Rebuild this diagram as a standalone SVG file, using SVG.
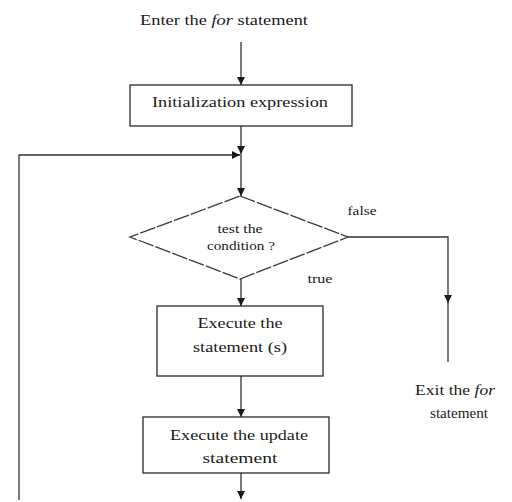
<svg xmlns="http://www.w3.org/2000/svg" width="512" height="502" viewBox="0 0 512 502">
  <style>
    .box { fill: #ffffff; stroke: #2a2a2a; stroke-width: 1.3; }
    .dia { fill: #ffffff; stroke: #3a3a3a; stroke-width: 1.3; stroke-dasharray: 16 2; }
    .line { fill: none; stroke: #333333; stroke-width: 1.3; }
    .t { font-family: "Liberation Serif", "Times New Roman", serif; font-size: 14px; fill: #1a1a1a; text-anchor: middle; }
    .s { font-size: 12px; }
  </style>
  <defs>
    <marker id="arr" viewBox="0 0 10 10" refX="10" refY="5" markerWidth="8" markerHeight="8" markerUnits="userSpaceOnUse" orient="auto">
      <path d="M0,0 L10,5 L0,10 Z" fill="#1a1a1a"/>
    </marker>
  </defs>

  <g id="connectors">
    <line class="line" x1="241" y1="42" x2="241" y2="85" marker-end="url(#arr)"/>
    <line class="line" x1="241" y1="126" x2="241" y2="154" marker-end="url(#arr)"/>
    <polyline class="line" points="19,500 19,155 240,155" marker-end="url(#arr)"/>
    <line class="line" x1="241" y1="154" x2="241" y2="196" marker-end="url(#arr)"/>
    <line class="line" x1="241" y1="279" x2="241" y2="306" marker-end="url(#arr)"/>
    <line class="line" x1="241" y1="376" x2="241" y2="417" marker-end="url(#arr)"/>
    <line class="line" x1="241" y1="473" x2="241" y2="499" marker-end="url(#arr)"/>
    <polyline class="line" points="348,237 448,237 448,303" marker-end="url(#arr)"/>
    <line class="line" x1="448" y1="300" x2="448" y2="362" stroke="#666666"/>
  </g>

  <g id="enter">
    <text class="t" x="224" y="25" textLength="168" lengthAdjust="spacingAndGlyphs">Enter the <tspan font-style="italic">for</tspan> statement</text>
  </g>

  <g id="init">
    <rect class="box" x="130" y="85" width="222" height="41"/>
    <text class="t" x="240" y="107" textLength="176" lengthAdjust="spacingAndGlyphs">Initialization expression</text>
  </g>

  <g id="condition">
    <polygon class="dia" points="240,196 348,237 240,279 130,237"/>
    <text class="t s" x="240" y="233" textLength="45" lengthAdjust="spacingAndGlyphs">test the</text>
    <text class="t s" x="241" y="250" textLength="68" lengthAdjust="spacingAndGlyphs">condition ?</text>
  </g>

  <g id="labels">
    <text class="t s" x="362" y="215" textLength="29" lengthAdjust="spacingAndGlyphs">false</text>
    <text class="t s" x="320" y="283" textLength="25" lengthAdjust="spacingAndGlyphs">true</text>
  </g>

  <g id="body">
    <rect class="box" x="157" y="306" width="166" height="70"/>
    <text class="t" x="240" y="328" textLength="85" lengthAdjust="spacingAndGlyphs">Execute the</text>
    <text class="t" x="240" y="352" textLength="94" lengthAdjust="spacingAndGlyphs">statement (s)</text>
  </g>

  <g id="update">
    <rect class="box" x="143" y="417" width="186" height="56"/>
    <text class="t" x="239" y="440" textLength="138" lengthAdjust="spacingAndGlyphs">Execute the update</text>
    <text class="t" x="240" y="463" textLength="75" lengthAdjust="spacingAndGlyphs">statement</text>
  </g>

  <g id="exit">
    <text class="t" x="455" y="395" textLength="80" lengthAdjust="spacingAndGlyphs">Exit the <tspan font-style="italic">for</tspan></text>
    <text class="t" x="459" y="418" textLength="58" lengthAdjust="spacingAndGlyphs">statement</text>
  </g>
</svg>
